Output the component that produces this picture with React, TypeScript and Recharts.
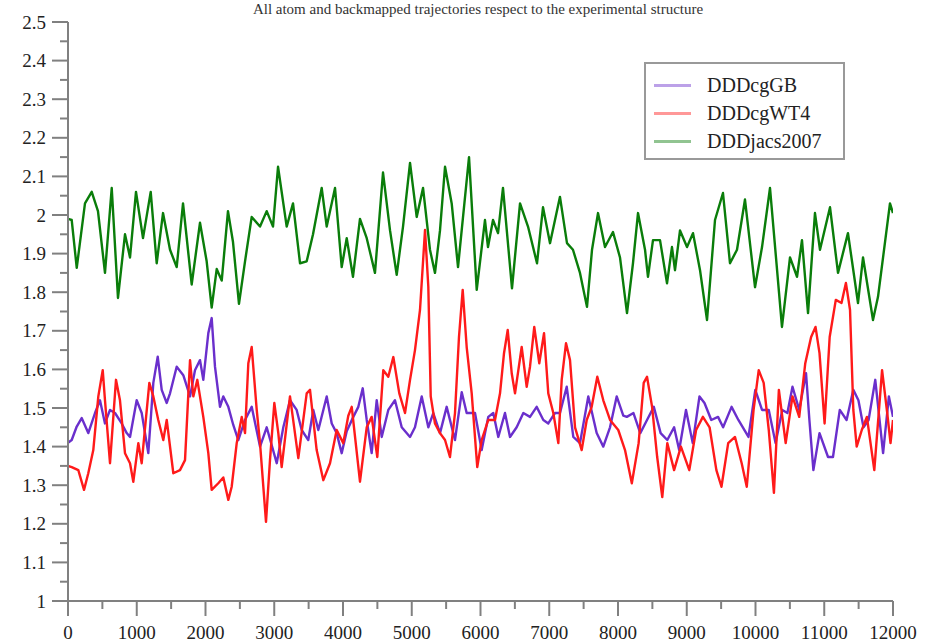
import React from "react";
import { LineChart, Line, XAxis, YAxis } from "recharts";

// ─── Data (frame, RMSD) ──────────────────────────────────────────────────────

const SERIES_NAMES = ["DDDcgGB", "DDDcgWT4", "DDDjacs2007"];

const GB_POINTS: [number, number][] = [
  [0, 1.41], [54, 1.417], [127, 1.452], [199, 1.474], [295, 1.435], [393, 1.487],
  [465, 1.52], [538, 1.46], [611, 1.495], [684, 1.487], [781, 1.46], [854, 1.435],
  [902, 1.425], [999, 1.52], [1072, 1.487], [1168, 1.383], [1241, 1.565], [1305, 1.633],
  [1363, 1.547], [1436, 1.513], [1484, 1.538], [1581, 1.607], [1677, 1.585], [1775, 1.53],
  [1847, 1.598], [1920, 1.624], [1968, 1.573], [2041, 1.694], [2090, 1.733], [2138, 1.607],
  [2211, 1.503], [2259, 1.53], [2332, 1.503], [2404, 1.456], [2477, 1.417], [2575, 1.469],
  [2672, 1.503], [2793, 1.4], [2890, 1.45], [3036, 1.357], [3132, 1.45], [3229, 1.52],
  [3326, 1.495], [3399, 1.443], [3495, 1.417], [3568, 1.495], [3641, 1.443], [3763, 1.53],
  [3836, 1.46], [3908, 1.435], [3981, 1.383], [4054, 1.44], [4150, 1.477], [4223, 1.503],
  [4287, 1.551], [4345, 1.469], [4417, 1.383], [4490, 1.52], [4563, 1.425], [4659, 1.495],
  [4756, 1.52], [4854, 1.45], [4975, 1.425], [5047, 1.45], [5145, 1.53], [5241, 1.45],
  [5313, 1.487], [5411, 1.435], [5508, 1.503], [5629, 1.417], [5727, 1.541], [5799, 1.487],
  [5920, 1.487], [6017, 1.391], [6113, 1.477], [6186, 1.487], [6259, 1.425], [6356, 1.487],
  [6429, 1.425], [6526, 1.45], [6623, 1.487], [6720, 1.477], [6817, 1.503], [6914, 1.469],
  [6986, 1.46], [7084, 1.487], [7156, 1.487], [7254, 1.555], [7350, 1.425], [7447, 1.409],
  [7568, 1.53], [7690, 1.435], [7786, 1.4], [7884, 1.45], [7981, 1.53], [8077, 1.48],
  [8128, 1.477], [8225, 1.487], [8324, 1.435], [8422, 1.469], [8521, 1.503], [8620, 1.435],
  [8717, 1.417], [8816, 1.45], [8890, 1.391], [8989, 1.495], [9087, 1.409], [9185, 1.53],
  [9258, 1.513], [9357, 1.469], [9455, 1.477], [9529, 1.45], [9652, 1.503], [9751, 1.469],
  [9898, 1.425], [9997, 1.547], [10095, 1.495], [10193, 1.495], [10292, 1.409], [10390, 1.495],
  [10464, 1.487], [10538, 1.555], [10636, 1.495], [10735, 1.59], [10784, 1.469], [10842, 1.339],
  [10931, 1.435], [11055, 1.373], [11127, 1.373], [11226, 1.495], [11325, 1.469], [11423, 1.547],
  [11497, 1.52], [11571, 1.45], [11645, 1.469], [11742, 1.573], [11856, 1.383], [11940, 1.53],
  [12000, 1.477],
];

const WT4_POINTS: [number, number][] = [
  [0, 1.35], [54, 1.347], [150, 1.339], [233, 1.288], [295, 1.331], [368, 1.391],
  [441, 1.53], [505, 1.598], [538, 1.52], [611, 1.357], [698, 1.573], [756, 1.52],
  [829, 1.383], [902, 1.357], [950, 1.309], [1023, 1.409], [1072, 1.357], [1183, 1.565],
  [1241, 1.53], [1313, 1.469], [1386, 1.417], [1436, 1.469], [1532, 1.331], [1629, 1.339],
  [1702, 1.365], [1775, 1.624], [1823, 1.53], [1881, 1.573], [1968, 1.477], [2041, 1.383],
  [2090, 1.288], [2186, 1.305], [2259, 1.32], [2332, 1.262], [2381, 1.296], [2454, 1.409],
  [2527, 1.477], [2575, 1.435], [2623, 1.616], [2672, 1.658], [2745, 1.495], [2793, 1.409],
  [2880, 1.205], [2938, 1.365], [3001, 1.513], [3059, 1.435], [3108, 1.347], [3229, 1.53],
  [3350, 1.37], [3472, 1.538], [3520, 1.547], [3617, 1.391], [3714, 1.313], [3811, 1.357],
  [3908, 1.443], [4004, 1.409], [4077, 1.48], [4127, 1.503], [4247, 1.309], [4345, 1.45],
  [4417, 1.477], [4499, 1.373], [4586, 1.598], [4659, 1.581], [4732, 1.632], [4819, 1.538],
  [4902, 1.487], [4975, 1.573], [5047, 1.65], [5120, 1.754], [5193, 1.961], [5241, 1.814],
  [5276, 1.53], [5338, 1.46], [5411, 1.435], [5484, 1.417], [5556, 1.373], [5629, 1.487],
  [5687, 1.684], [5741, 1.806], [5799, 1.658], [5872, 1.538], [5953, 1.347], [6017, 1.417],
  [6113, 1.469], [6211, 1.469], [6284, 1.538], [6342, 1.642], [6396, 1.702], [6454, 1.59],
  [6502, 1.538], [6599, 1.658], [6672, 1.555], [6720, 1.607], [6782, 1.71], [6855, 1.616],
  [6924, 1.694], [6986, 1.538], [7059, 1.487], [7132, 1.409], [7181, 1.573], [7244, 1.668],
  [7302, 1.624], [7375, 1.45], [7472, 1.391], [7545, 1.469], [7617, 1.503], [7699, 1.581],
  [7786, 1.52], [7884, 1.469], [8004, 1.443], [8102, 1.391], [8201, 1.305], [8300, 1.409],
  [8374, 1.565], [8422, 1.581], [8496, 1.503], [8570, 1.373], [8644, 1.269], [8717, 1.409],
  [8816, 1.339], [8915, 1.4], [9037, 1.339], [9136, 1.443], [9235, 1.477], [9332, 1.45],
  [9431, 1.339], [9505, 1.296], [9603, 1.409], [9702, 1.425], [9799, 1.357], [9873, 1.296],
  [9972, 1.495], [10047, 1.598], [10119, 1.565], [10193, 1.443], [10268, 1.28], [10340, 1.547],
  [10439, 1.409], [10538, 1.53], [10636, 1.477], [10724, 1.616], [10809, 1.684], [10873, 1.71],
  [10931, 1.642], [11005, 1.46], [11079, 1.684], [11168, 1.78], [11251, 1.772], [11315, 1.824],
  [11375, 1.754], [11423, 1.495], [11472, 1.4], [11546, 1.443], [11620, 1.477], [11728, 1.339],
  [11841, 1.598], [11916, 1.487], [11964, 1.409], [12000, 1.469],
];

const JACS_POINTS: [number, number][] = [
  [0, 1.99], [54, 1.987], [127, 1.863], [247, 2.03], [345, 2.06], [436, 2.01],
  [538, 1.85], [636, 2.07], [727, 1.785], [829, 1.95], [902, 1.89], [989, 2.06],
  [1091, 1.94], [1203, 2.06], [1290, 1.875], [1382, 2.005], [1484, 1.91], [1581, 1.865],
  [1673, 2.03], [1799, 1.82], [1920, 1.98], [2017, 1.88], [2090, 1.76], [2163, 1.86],
  [2236, 1.83], [2327, 2.01], [2400, 1.93], [2487, 1.77], [2575, 1.88], [2672, 1.995],
  [2793, 1.97], [2890, 2.01], [2982, 1.97], [3055, 2.125], [3181, 1.97], [3273, 2.03],
  [3375, 1.875], [3472, 1.88], [3564, 1.95], [3690, 2.07], [3763, 1.97], [3884, 2.07],
  [3981, 1.865], [4054, 1.94], [4145, 1.84], [4247, 1.99], [4345, 1.94], [4465, 1.85],
  [4582, 2.11], [4684, 1.96], [4781, 1.845], [4873, 1.97], [4975, 2.135], [5072, 1.995],
  [5164, 2.07], [5265, 1.91], [5338, 1.85], [5411, 1.96], [5484, 2.125], [5581, 2.03],
  [5673, 1.865], [5702, 1.917], [5833, 2.15], [5945, 1.806], [6065, 1.987], [6109, 1.917],
  [6182, 1.987], [6255, 1.953], [6327, 2.07], [6458, 1.81], [6575, 2.03], [6691, 1.97],
  [6822, 1.875], [6909, 2.02], [7011, 1.927], [7156, 2.047], [7258, 1.927], [7345, 1.91],
  [7447, 1.85], [7549, 1.762], [7622, 1.91], [7709, 2.005], [7811, 1.917], [7927, 1.956],
  [8029, 1.89], [8131, 1.746], [8218, 1.875], [8291, 2.005], [8393, 1.91], [8436, 1.84],
  [8509, 1.935], [8611, 1.935], [8713, 1.823], [8785, 1.917], [8829, 1.857], [8902, 1.96],
  [9004, 1.917], [9091, 1.953], [9193, 1.857], [9295, 1.728], [9411, 1.987], [9527, 2.057],
  [9629, 1.875], [9731, 1.91], [9847, 2.04], [9993, 1.813], [10095, 1.917], [10211, 2.07],
  [10385, 1.71], [10502, 1.89], [10604, 1.84], [10676, 1.935], [10764, 1.746], [10865, 2.005],
  [10938, 1.91], [11084, 2.02], [11200, 1.85], [11345, 1.953], [11491, 1.772], [11564, 1.89],
  [11709, 1.728], [11782, 1.788], [11956, 2.03], [12000, 2.005],
];

const X_TICKS = Array.from({ length: 25 }, (_, i) => i * 500);
const Y_TICKS = Array.from({ length: 31 }, (_, i) => Math.round((1 + i * 0.05) * 100) / 100);

// ─── Styling ─────────────────────────────────────────────────────────────────

const COLORS = ["#6a2fcc", "#ff1a1a", "#0a7d0a"];
const AXIS_COLOR = "#808080";
const FONT = "'Liberation Serif', 'DejaVu Serif', serif";

const WIDTH = 925;
const HEIGHT = 642;
const PLOT_LEFT = 68;
const PLOT_BOTTOM = 601;

const toRows = (pts: [number, number][]) => pts.map(([frame, rmsd]) => ({ frame, rmsd }));

// ─── Custom ticks (major + minor) ────────────────────────────────────────────

function YTick({ y, payload }: any) {
  const v = payload.value;
  const major = Math.abs(v * 10 - Math.round(v * 10)) < 1e-6;
  return (
    <g>
      <line x1={PLOT_LEFT - (major ? 16 : 8)} x2={PLOT_LEFT} y1={y} y2={y} stroke={AXIS_COLOR} strokeWidth={2} />
      {major && (
        <text x={PLOT_LEFT - 22} y={y} dy="0.35em" textAnchor="end" fontFamily={FONT} fontSize={19} fill="#222">
          {String(Math.round(v * 10) / 10)}
        </text>
      )}
    </g>
  );
}

function XTick({ x, payload }: any) {
  const v = payload.value;
  const major = v % 1000 === 0;
  return (
    <g>
      <line x1={x} x2={x} y1={PLOT_BOTTOM} y2={PLOT_BOTTOM + (major ? 15 : 8)} stroke={AXIS_COLOR} strokeWidth={2} />
      {major && (
        <text x={x} y={PLOT_BOTTOM + 31} dy="0.35em" textAnchor="middle" fontFamily={FONT} fontSize={19} fill="#222">
          {v}
        </text>
      )}
    </g>
  );
}

function LegendBox() {
  return (
    <div
      style={{
        position: "absolute",
        left: 644,
        top: 62,
        width: 197,
        height: 94,
        border: "2px solid #999",
        background: "white",
        fontFamily: FONT,
        fontSize: 20,
        color: "#222",
      }}
    >
      {SERIES_NAMES.map((name, i) => (
        <div
          key={name}
          style={{ position: "absolute", left: 0, top: 8 + i * 28, height: 26, display: "flex", alignItems: "center" }}
        >
          <div style={{ width: 37, height: 3, marginLeft: 8, background: COLORS[i], opacity: 0.45 }} />
          <span style={{ marginLeft: 16, whiteSpace: "nowrap" }}>{name}</span>
        </div>
      ))}
    </div>
  );
}

// ─── Component ───────────────────────────────────────────────────────────────

export default function App() {
  const seriesData = [toRows(GB_POINTS), toRows(WT4_POINTS), toRows(JACS_POINTS)];

  return (
    <div style={{ position: "absolute", left: 0, top: 0, width: WIDTH, height: HEIGHT, background: "white", overflow: "hidden" }}>
      <LineChart width={WIDTH} height={HEIGHT} margin={{ top: 22, right: 32, bottom: 0, left: 0 }}>
        <XAxis
          dataKey="frame"
          type="number"
          domain={[0, 12000]}
          ticks={X_TICKS}
          interval={0}
          height={41}
          allowDataOverflow
          axisLine={{ stroke: AXIS_COLOR, strokeWidth: 2 }}
          tickLine={false}
          tick={<XTick />}
        />
        <XAxis
          xAxisId="top"
          orientation="top"
          type="number"
          domain={[0, 12000]}
          height={0}
          tick={false}
          tickLine={false}
          axisLine={{ stroke: AXIS_COLOR, strokeWidth: 2 }}
        />
        <YAxis
          type="number"
          domain={[1, 2.5]}
          ticks={Y_TICKS}
          interval={0}
          width={PLOT_LEFT}
          allowDataOverflow
          axisLine={{ stroke: AXIS_COLOR, strokeWidth: 2 }}
          tickLine={false}
          tick={<YTick />}
        />
        <YAxis
          yAxisId="right"
          orientation="right"
          type="number"
          domain={[1, 2.5]}
          width={0}
          tick={false}
          tickLine={false}
          axisLine={{ stroke: AXIS_COLOR, strokeWidth: 2 }}
        />
        {seriesData.map((rows, i) => (
          <Line
            key={SERIES_NAMES[i]}
            data={rows}
            dataKey="rmsd"
            name={SERIES_NAMES[i]}
            type="linear"
            stroke={COLORS[i]}
            strokeWidth={2.4}
            strokeLinejoin="round"
            dot={false}
            activeDot={false}
            isAnimationActive={false}
          />
        ))}
      </LineChart>

      <LegendBox />

      {/* title sits against the top edge, as in the reference */}
      <div
        style={{
          position: "absolute",
          top: 1,
          left: 0,
          width: 956,
          textAlign: "center",
          fontFamily: FONT,
          fontSize: 15,
          lineHeight: "16px",
          color: "#333",
          whiteSpace: "nowrap",
        }}
      >
        All atom and backmapped trajectories respect to the experimental structure
      </div>
    </div>
  );
}
